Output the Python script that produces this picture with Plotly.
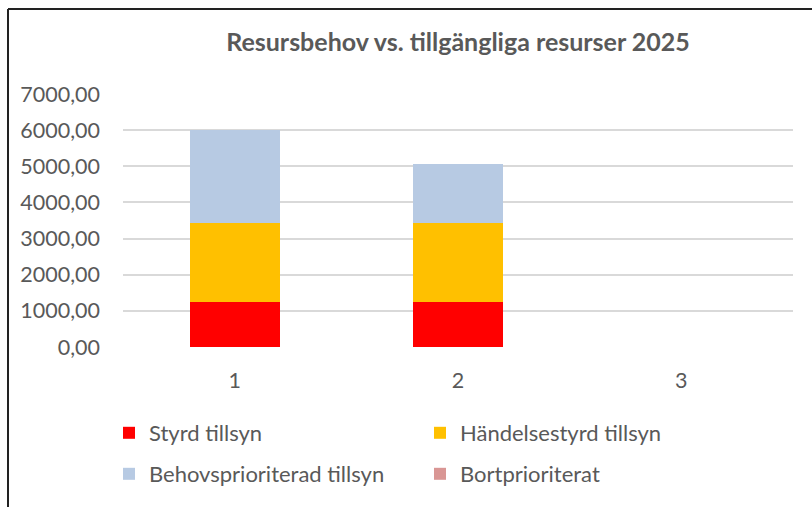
import plotly.graph_objects as go

categories = ["1", "2", "3"]
styrd = [1245, 1245, 0]
handelse = [2175, 2175, 0]
behov = [2580, 1640, 0]
bort = [0, 0, 0]
y_ticks = [0, 1000, 2000, 3000, 4000, 5000, 6000, 7000]

FONT = "Lato"
GREY = "#595959"

W, H = 812, 507
L, R, T, B = 123, 19, 94, 160
pw = W - L - R
ph = H - T - B

fig = go.Figure()
series = [
    ("Styrd tillsyn", styrd, "#ff0000", "legend", 109, 433),
    ("Händelsestyrd tillsyn", handelse, "#ffc000", "legend2", 420, 433),
    ("Behovsprioriterad tillsyn", behov, "#b7cae3", "legend3", 109, 474),
    ("Bortprioriterat", bort, "#d99694", "legend4", 420, 474),
]
legends = {}
for name, vals, col, lg, lx, ly in series:
    fig.add_trace(go.Bar(x=categories, y=vals, name=name, marker_color=col,
                         marker_line_width=0, legend=lg, showlegend=True))
    legends[lg] = dict(xref="container", yref="container",
                       x=lx / W, y=1 - ly / H, xanchor="left", yanchor="middle",
                       font=dict(family=FONT, size=22, color=GREY),
                       bgcolor="rgba(0,0,0,0)", borderwidth=0, visible=True)


def px_x(x):
    return (x - L) / pw


def px_y(y):
    return (H - B - y) / ph


fig.update_layout(
    width=W, height=H,
    showlegend=True,
    margin=dict(l=L, r=R, t=T, b=B, autoexpand=False),
    paper_bgcolor="white", plot_bgcolor="white",
    barmode="stack", bargap=0.597,
    separators=", ",
    font=dict(family=FONT, color=GREY, size=21),
    title=dict(text="<b>Resursbehov vs. tillgängliga resurser 2025</b>",
               x=0.5, xref="paper", xanchor="center",
               y=1 - 42 / H, yref="container", yanchor="middle",
               font=dict(family=FONT, size=25, color=GREY)),
    xaxis=dict(type="category", showgrid=False, showline=False, zeroline=False,
               ticks="", ticklabelstandoff=18, automargin=False,
               tickfont=dict(size=21.5, color=GREY)),
    yaxis=dict(range=[0, 7000], tickvals=y_ticks, tickformat=".2f",
               showgrid=True, gridcolor="#d9d9d9", gridwidth=1.5,
               zeroline=False, showline=False, ticks="", automargin=False,
               ticklabelstandoff=22, tickfont=dict(size=21.5, color=GREY)),
    shapes=[
        dict(type="line", xref="paper", yref="paper",
             x0=px_x(8), x1=px_x(900), y0=px_y(9), y1=px_y(9),
             line=dict(color="#222222", width=2)),
        dict(type="line", xref="paper", yref="paper",
             x0=px_x(8), x1=px_x(8), y0=px_y(9), y1=px_y(600),
             line=dict(color="#222222", width=2)),
    ],
    **legends,
)

fig.write_html("out.html",
               config={"displayModeBar": False},
               post_script="document.body.style.margin='0';document.body.style.overflow='hidden';")
